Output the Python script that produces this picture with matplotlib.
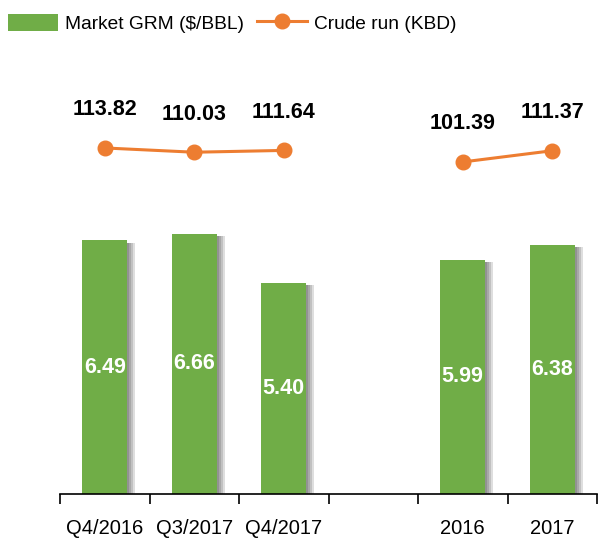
import numpy as np
import matplotlib.pyplot as plt
import matplotlib.patheffects as pe

plt.rcParams['font.family'] = ['Liberation Sans', 'DejaVu Sans']

# Data (empty slot separates quarters from years)
categories = ['Q4/2016', 'Q3/2017', 'Q4/2017', '', '2016', '2017']
market_grm = [6.49, 6.66, 5.40, np.nan, 5.99, 6.38]
crude_run = [113.82, 110.03, 111.64, np.nan, 101.39, 111.37]

bar_color = '#70AD47'
line_color = '#ED7D31'

fig = plt.figure(figsize=(5.98, 5.43), dpi=100)
ax = fig.add_axes([60 / 598, 1 - 494 / 543, 537 / 598, 434 / 543])
ax2 = ax.twinx()

x = np.arange(len(categories))
# soft shadow on the right side of each bar
shadow = [pe.SimplePatchShadow(offset=(d, -1.5), shadow_rgbFace='black', alpha=0.13)
          for d in (6, 4.5, 3, 1.5)]
bars = ax.bar(x, np.nan_to_num(market_grm), width=0.5, color=bar_color, zorder=2,
              path_effects=shadow + [pe.Normal()])

for xi, v in zip(x, market_grm):
    if not np.isnan(v):
        ax.text(xi, v / 2, f'{v:.2f}', ha='center', va='center', color='white',
                fontsize=15.5, fontweight='bold')

ax2.plot(x, crude_run, color=line_color, linewidth=2.2, marker='o', markersize=10.5, zorder=3)
for xi, v in zip(x, crude_run):
    if not np.isnan(v):
        ax2.annotate(f'{v:.2f}', (xi, v), xytext=(0, 27.5), textcoords='offset points',
                     ha='center', va='center', fontsize=15.5, fontweight='bold', color='black')

ax.set_xlim(-0.5, len(categories) - 0.5)
ax.set_ylim(0, 434 / 39.07)
ax2.set_ylim(-193.5, -193.5 + 434 / 1.126)

ax.set_xticks(x)
ax.set_xticklabels(categories, fontsize=14.5)
ax.set_xticks(np.arange(-0.5, len(categories)), minor=True)
ax.tick_params(axis='x', which='major', length=0, pad=18)
ax.tick_params(axis='x', which='minor', length=7, width=1.2, direction='out', color='black')
ax.set_yticks([])
ax2.set_yticks([])
for a in (ax, ax2):
    for s in ('top', 'right', 'left'):
        a.spines[s].set_visible(False)
ax2.spines['bottom'].set_visible(False)
ax.spines['bottom'].set_linewidth(1.2)

handles = [bars, ax2.lines[0]]
leg = fig.legend(handles, ['Market GRM ($/BBL)', 'Crude run (KBD)'], loc='upper left',
                 bbox_to_anchor=(8 / 598, 1 - 14 / 543), ncol=2, frameon=False, fontsize=13.8,
                 handlelength=2.6, handleheight=0.95, columnspacing=0.7, handletextpad=0.35,
                 borderpad=0, borderaxespad=0)
leg.legend_handles[0].set_path_effects([])

fig.savefig('out.png', dpi=100)
